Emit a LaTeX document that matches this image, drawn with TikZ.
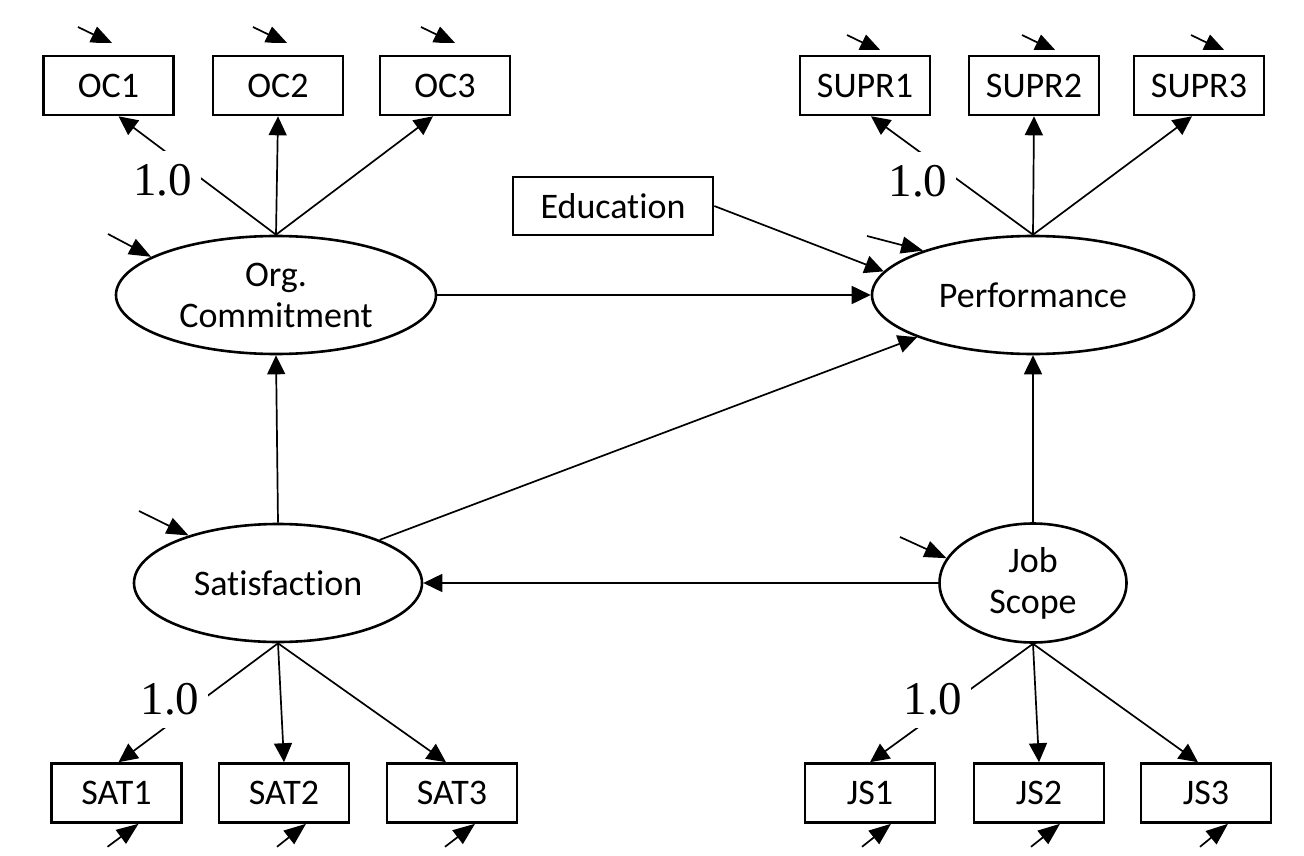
\documentclass[tikz,border=0pt]{standalone}
\usepackage{fontspec}
\setmainfont{Carlito}[Ligatures=NoCommon]
\newfontfamily\timesf{Liberation Serif}
\usetikzlibrary{shapes.geometric,arrows.meta,calc}
\begin{document}
\begin{tikzpicture}[x=1pt,y=-1pt,
  box/.style={draw,line width=2.6pt,minimum width=130pt,minimum height=59pt,inner sep=0pt,font=\fontsize{36}{42}\selectfont},
  lat/.style={ellipse,draw,line width=2.6pt,inner sep=0pt,align=center,font=\fontsize{36}{41}\selectfont},
  conn/.style={line width=1.7pt,-{Triangle[length=19pt,width=18pt]}},
  dist/.style={line width=1.7pt,-{Triangle[length=22pt,width=17pt]}},
  one/.style={fill=white,inner xsep=9pt,inner ysep=13pt,font=\timesf\fontsize{47}{47}\selectfont},
]
\fill[white] (0,0) rectangle (1304,856);
\useasboundingbox (0,0) rectangle (1304,856);

% observed indicators
\node[box] (oc1) at (108.5,85.5) {OC1};
\node[box] (oc2) at (278,85.5) {OC2};
\node[box] (oc3) at (445,85.5) {OC3};
\node[box] (supr1) at (865,85.5) {SUPR1};
\node[box] (supr2) at (1034,85.5) {SUPR2};
\node[box] (supr3) at (1199,85.5) {SUPR3};
\node[box,minimum width=200pt,minimum height=58pt] (edu) at (613,206) {Education};
\node[box] (sat1) at (116.5,793) {SAT1};
\node[box] (sat2) at (284,793) {SAT2};
\node[box] (sat3) at (452,793) {SAT3};
\node[box] (js1) at (870,793) {JS1};
\node[box] (js2) at (1039,793) {JS2};
\node[box] (js3) at (1206,793) {JS3};

% latent variables
\node[lat,minimum width=320pt,minimum height=118pt] (org) at (276,295) {Org.\\Commitment};
\node[lat,minimum width=322pt,minimum height=118pt] (perf) at (1033,295) {Performance};
\node[lat,minimum width=288pt,minimum height=118pt] (sat) at (278,583) {Satisfaction};
\node[lat,minimum width=187pt,minimum height=119pt] (js) at (1033,583) {Job\\Scope};

% loadings
\draw[conn] (org.north) -- ($(oc1.south)+(10,0)$);
\draw[conn] (org.north) -- (oc2.south);
\draw[conn] (org.north) -- ($(oc3.south)+(-12,0)$);
\draw[conn] (perf.north) -- ($(supr1.south)+(6,0)$);
\draw[conn] (perf.north) -- (supr2.south);
\draw[conn] (perf.north) -- ($(supr3.south)+(-7,0)$);
\draw[conn] (sat.south) -- ($(sat1.north)+(2,0)$);
\draw[conn] (sat.south) -- (sat2.north);
\draw[conn] (sat.south) -- ($(sat3.north)+(-6,0)$);
\draw[conn] (js.south) -- (js1.north);
\draw[conn] (js.south) -- (js2.north);
\draw[conn] (js.south) -- ($(js3.north)+(-8,0)$);

% structural paths
\draw[conn] (edu.east) -- (perf.171);
\draw[conn] (org.east) -- (perf.west);
\draw[conn] (sat.23) -- (perf.200);
\draw[conn] (sat.north) -- (org.south);
\draw[conn] (js.north) -- (perf.south);
\draw[conn] (js.west) -- (sat.east);

% disturbances of latent variables
\coordinate (dorg) at (108,234);
\coordinate (dperf) at (867,236);
\coordinate (dsat) at (139,511);
\coordinate (djs) at (900,537);
\draw[dist] (dorg) -- (org.163);
\draw[dist] (dperf) -- (perf.158);
\draw[dist] (dsat) -- (sat.152);
\draw[dist] (djs) -- (js.164);

% error terms of top indicators (clipped heads)
\begin{scope}
\clip (0,0) rectangle (700,42.5);
\coordinate (e1) at (78,27);
\coordinate (e2) at (253,27);
\coordinate (e3) at (421,27);
\draw[dist] (e1) -- ++(35,17);
\draw[dist] (e2) -- ++(35,17);
\draw[dist] (e3) -- ++(35,17);
\end{scope}
\begin{scope}
\clip (700,0) rectangle (1304,50);
\coordinate (e4) at (847,35);
\coordinate (e5) at (1022,35);
\coordinate (e6) at (1191,35);
\draw[dist] (e4) -- ++(35,17);
\draw[dist] (e5) -- ++(35,17);
\draw[dist] (e6) -- ++(35,17);
\end{scope}

% error terms of bottom indicators
\draw[dist] ($(sat1.south)+(-9,23)$) -- ($(sat1.south)+(22,0)$);
\draw[dist] ($(sat2.south)+(-7,23)$) -- ($(sat2.south)+(22,0)$);
\draw[dist] ($(sat3.south)+(-7,23)$) -- ($(sat3.south)+(23,0)$);
\draw[dist] ($(js1.south)+(-8,23)$) -- ($(js1.south)+(21,0)$);
\draw[dist] ($(js2.south)+(-8,23)$) -- ($(js2.south)+(21,0)$);
\draw[dist] ($(js3.south)+(-6,23)$) -- ($(js3.south)+(22,0)$);

% fixed loadings
\node[one] (l1) at (162.5,180) {1.0};
\node[one] (l2) at (918,181) {1.0};
\node[one] (l3) at (170,699) {1.0};
\node[one] (l4) at (933,699) {1.0};
\end{tikzpicture}
\end{document}
